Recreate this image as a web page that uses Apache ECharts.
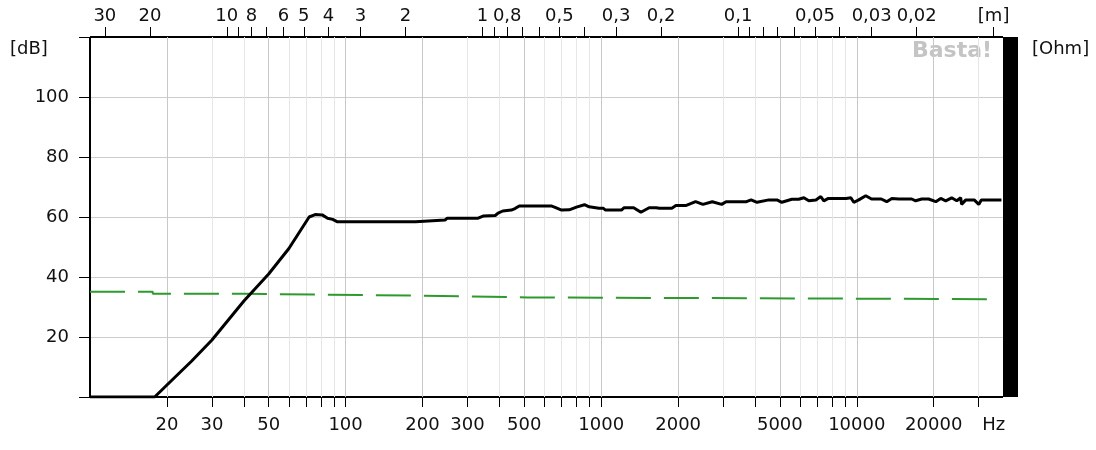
<!DOCTYPE html>
<html><head><meta charset="utf-8">
<script src="https://cdn.jsdelivr.net/npm/echarts@6/dist/echarts.min.js"></script>
<style>html,body{margin:0;padding:0;background:#fff}#c{width:1096px;height:450px}</style>
</head><body><div id="c"></div>
<script>
// ---- data ----
const splFreq = [10,17.9,20,25,30,40,50,60,72,76,81,85,89,93,188,190,245,250,330,345,385,395,412,445,460,478,637,660,700,750,800,860,897,980,1020,1040,1200,1230,1340,1430,1540,1640,1690,1890,1960,2140,2340,2500,2720,2960,3080,3700,3860,4070,4530,4870,5090,5570,5920,6210,6490,6920,7230,7430,7740,9080,9480,9730,10180,10840,11420,12460,13090,13710,14590,16400,16990,17950,19100,20370,21300,22280,23500,24600,25500,25700,26700,28800,30000,30700,33500,36800];
const splDb   = [0,0,4,12,19,32,41,49.5,60,60.8,60.7,59.6,59.2,58.4,58.4,59,59,59.6,59.6,60.3,60.5,61.3,62,62.3,62.8,63.7,63.7,63.2,62.3,62.4,63.3,64.1,63.4,62.9,62.9,62.3,62.3,63.1,63.1,61.6,63.1,63.1,62.9,62.9,63.8,63.8,65.1,64.2,65.1,64.2,65.1,65.1,65.7,64.9,65.7,65.7,64.9,65.9,65.9,66.4,65.4,65.7,66.8,65.4,66.2,66.2,66.4,64.9,65.7,67.1,66,66,65.1,66.2,66,66,65.4,66,66,65.1,66.2,65.4,66.4,65.4,66.4,64.2,65.7,65.7,64.2,65.7,65.7,65.7];
const refFreq = [10,17.6,39.6,184,515,33500];
const refDb   = [35.1,34.4,33.8,33.2,32.6,32.6];
const bottomTickHz  = [20,30,40,50,60,70,80,90,100,200,300,400,500,600,700,800,900,1000,2000,3000,4000,5000,6000,7000,8000,9000,10000,20000,30000];
const bottomLabelHz = [20,30,50,100,200,300,500,1000,2000,5000,10000,20000];
const gridMajorHz   = [20,50,100,200,500,1000,2000,5000,10000,20000];
const gridMinorHz   = [30,40,60,70,80,90,300,400,600,700,800,900,3000,4000,6000,7000,8000,9000,30000];
const topTickM  = [30,20,10,9,8,7,6,5,4,3,2,1,0.9,0.8,0.7,0.6,0.5,0.4,0.3,0.2,0.1,0.09,0.08,0.07,0.06,0.05,0.04,0.03,0.02,0.01];
const topLabelM = [30,20,10,8,6,5,4,3,2,1,0.8,0.5,0.3,0.2,0.1,0.05,0.03,0.02,0.01];
const SOUND_SPEED = 343;
const HZ_LABEL_AT = 34300;
const X_MIN = 1, X_MAX = 4.572; // log10(Hz)

// ---- build ----
const L = Math.log10;
const FONT = 'DejaVu Sans';
const FS = 18;
const bottomLabels = bottomLabelHz.map(f => ({v: L(f), t: String(f)})).concat([{v: L(HZ_LABEL_AT), t: 'Hz'}]);
const topLabels = topLabelM.map(m => ({v: L(SOUND_SPEED / m), t: m === 0.01 ? '[m]' : String(m).replace('.', ',')}));
function lookup(list, v) {
  let best = list[0], d = Infinity;
  for (const it of list) { const dd = Math.abs(it.v - v); if (dd < d) { d = dd; best = it; } }
  return best.t;
}
const H = 360;
function gridAxis(vals, color) {
  return {
    type: 'value', min: X_MIN, max: X_MAX, position: 'bottom', gridIndex: 0,
    axisLine: {show: false, onZero: false}, axisLabel: {show: false}, splitLine: {show: false},
    axisTick: {show: true, inside: true, length: H, customValues: vals.map(L), lineStyle: {color: color, width: 1}}
  };
}
const chart = echarts.init(document.getElementById('c'), null, {renderer: 'canvas'});
chart.setOption({
  animation: false,
  backgroundColor: '#ffffff',
  grid: {left: 90, right: 93, top: 37, bottom: 53, containLabel: false, outerBoundsMode: 'none'},
  xAxis: [
    gridAxis(gridMinorHz, '#e6e6e6'),
    gridAxis(gridMajorHz, '#c8c8c8'),
    {
      type: 'value', min: X_MIN, max: X_MAX, position: 'bottom',
      axisLine: {show: true, onZero: false, lineStyle: {color: '#000', width: 2, cap: 'butt'}},
      axisTick: {show: true, length: 10, customValues: bottomTickHz.map(L), lineStyle: {color: '#000', width: 1}},
      axisLabel: {show: true, customValues: bottomLabels.map(o => o.v), formatter: v => lookup(bottomLabels, v),
                  fontFamily: FONT, fontSize: FS, color: '#111', margin: 19},
      splitLine: {show: false}
    },
    {
      type: 'value', min: X_MIN, max: X_MAX, position: 'top',
      axisLine: {show: true, onZero: false, lineStyle: {color: '#000', width: 2, cap: 'butt'}},
      axisTick: {show: true, length: 10, customValues: topTickM.map(m => L(SOUND_SPEED / m)), lineStyle: {color: '#000', width: 1}},
      axisLabel: {show: true, customValues: topLabels.map(o => o.v), formatter: v => lookup(topLabels, v),
                  fontFamily: FONT, fontSize: FS, color: '#111', margin: 12},
      splitLine: {show: false}
    }
  ],
  yAxis: [
    {
      type: 'value', min: 0, max: 120, interval: 20, position: 'left',
      axisLine: {show: true, onZero: false, lineStyle: {color: '#000', width: 2, cap: 'butt'}},
      axisTick: {show: true, length: 11, lineStyle: {color: '#000', width: 1}},
      axisLabel: {fontFamily: FONT, fontSize: FS, color: '#111', margin: 21,
                  formatter: v => (v === 0 || v === 120) ? '' : String(v)},
      splitLine: {show: true, lineStyle: {color: '#cdcdcd', width: 1}}
    },
    {
      type: 'value', min: 0, max: 120, position: 'right', offset: 7,
      axisLine: {show: true, onZero: false, lineStyle: {color: '#000', width: 15, cap: 'butt'}},
      axisTick: {show: false}, axisLabel: {show: false}, splitLine: {show: false}
    }
  ],
  graphic: [
    {type: 'text', left: 10, top: 40, style: {text: '[dB]', font: '18px "DejaVu Sans"', fill: '#111'}},
    {type: 'text', left: 1032, top: 40, style: {text: '[Ohm]', font: '18px "DejaVu Sans"', fill: '#111'}},
    {type: 'text', left: 912, top: 40, style: {text: 'Basta!', font: 'bold 22px "DejaVu Sans"', fill: '#c4c4c4'}}
  ],
  series: [
    {
      type: 'line', xAxisIndex: 2, yAxisIndex: 0, showSymbol: false, step: 'end', z: 3,
      lineStyle: {color: '#2e9a2e', width: 2, type: [35, 13]},
      data: refFreq.map((f, i) => [L(f), refDb[i]])
    },
    {
      type: 'line', xAxisIndex: 2, yAxisIndex: 0, showSymbol: false, z: 4,
      lineStyle: {color: '#000', width: 3},
      data: splFreq.map((f, i) => [L(f), splDb[i]])
    }
  ]
});
</script></body></html>
